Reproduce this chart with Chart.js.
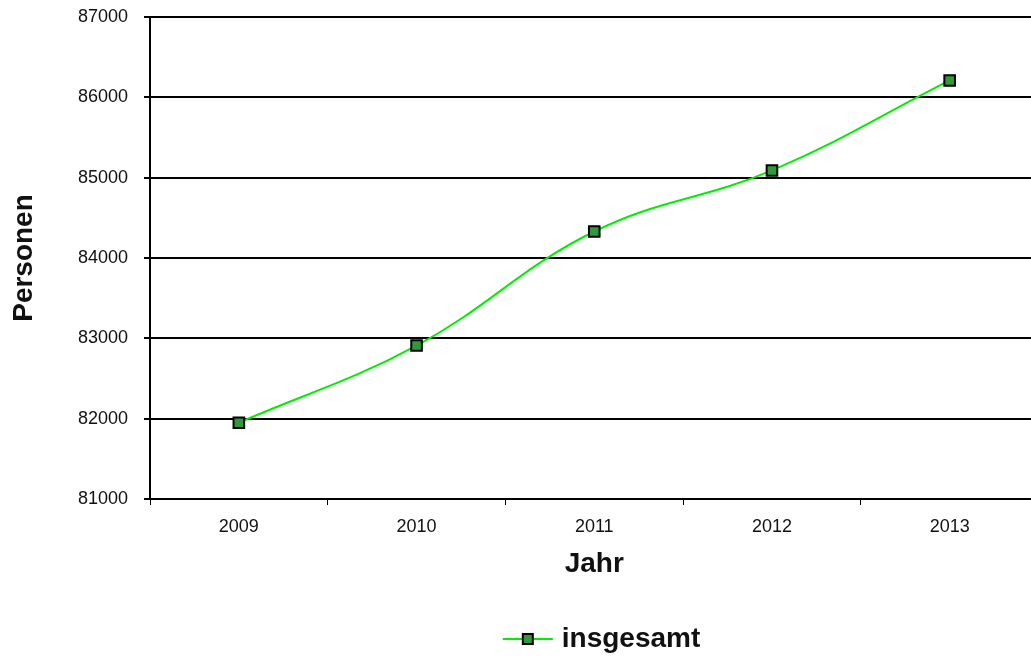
<!DOCTYPE html>
<html>
<head>
<meta charset="utf-8">
<script src="https://cdn.jsdelivr.net/npm/chart.js@4/dist/chart.umd.min.js"></script>
<style>
  html, body { margin: 0; padding: 0; background: #fff; overflow: hidden; }
  canvas { display: block; }
</style>
</head>
<body>
<canvas id="chart" width="1048" height="656"></canvas>
<script>
// Werte
const jahre = ['2009', '2010', '2011', '2012', '2013'];
const insgesamt = [81950, 82910, 84330, 85090, 86210];
const yMin = 81000;
const yMax = 87000;
const yStep = 1000;

const FONT = '"Liberation Sans", Arial, sans-serif';
const LINE_GREEN = '#00ee00';
const MARK_GREEN = '#2e9a3a';

// Legendensymbol: Linie mit Quadrat (rechts im breiten Bild)
function legendSymbol() {
  const c = document.createElement('canvas');
  c.width = 212; c.height = 20;
  const g = c.getContext('2d');
  g.strokeStyle = LINE_GREEN;
  g.lineWidth = 2;
  g.beginPath(); g.moveTo(161, 10); g.lineTo(211, 10); g.stroke();
  g.fillStyle = MARK_GREEN;
  g.strokeStyle = '#000';
  g.lineWidth = 2;
  g.fillRect(181, 5, 10, 10);
  g.strokeRect(181, 5, 10, 10);
  return c;
}

const ctx = document.getElementById('chart').getContext('2d');
const chart = new Chart(ctx, {
  type: 'line',
  data: {
    labels: jahre,
    datasets: [{
      label: 'insgesamt',
      data: insgesamt,
      borderColor: LINE_GREEN,
      borderWidth: 2,
      tension: 0.4,
      pointStyle: 'rect',
      pointRadius: 7.5,
      pointBackgroundColor: MARK_GREEN,
      pointBorderColor: '#000',
      pointBorderWidth: 2
    }]
  },
  options: {
    responsive: false,
    animation: false,
    layout: { padding: { top: 17, left: 0, right: 0, bottom: -7 } },
    plugins: {
      tooltip: { enabled: false },
      legend: {
        position: 'bottom',
        labels: {
          usePointStyle: true,
          pointStyleWidth: 200,
          color: '#111',
          font: { family: FONT, size: 28, weight: 'bold' },
          padding: 3,
          generateLabels: (ch) => [{
            text: 'insgesamt',
            pointStyle: legendSymbol(),
            fillStyle: MARK_GREEN,
            strokeStyle: '#000',
            lineWidth: 0,
            datasetIndex: 0,
            fontColor: '#111'
          }]
        }
      }
    },
    scales: {
      x: {
        offset: true,
        border: { color: '#000', width: 2 },
        grid: {
          offset: true,
          drawOnChartArea: false,
          drawTicks: true,
          tickLength: 6,
          color: '#000',
          lineWidth: 1
        },
        ticks: {
          color: '#111',
          font: { family: FONT, size: 18 },
          padding: 11,
          maxRotation: 0
        },
        title: {
          display: true,
          text: 'Jahr',
          color: '#111',
          font: { family: FONT, size: 28, weight: 'bold' },
          padding: { top: 0, bottom: 41 }
        },
        afterFit: (s) => { s.height = 123; }
      },
      y: {
        min: yMin,
        max: yMax,
        border: { color: '#000', width: 2 },
        grid: {
          color: '#000',
          lineWidth: 2,
          tickLength: 6
        },
        ticks: {
          stepSize: yStep,
          color: '#111',
          font: { family: FONT, size: 18 },
          padding: 16,
          callback: (v) => String(v)
        },
        title: {
          display: true,
          text: 'Personen',
          color: '#111',
          font: { family: FONT, size: 28, weight: 'bold' },
          padding: { top: 7, bottom: 0 }
        },
        afterFit: (s) => {
          s.width = 150;
          s.paddingTop = 10;
          s.paddingBottom = 10;
        }
      }
    }
  }
});
</script>
</body>
</html>
